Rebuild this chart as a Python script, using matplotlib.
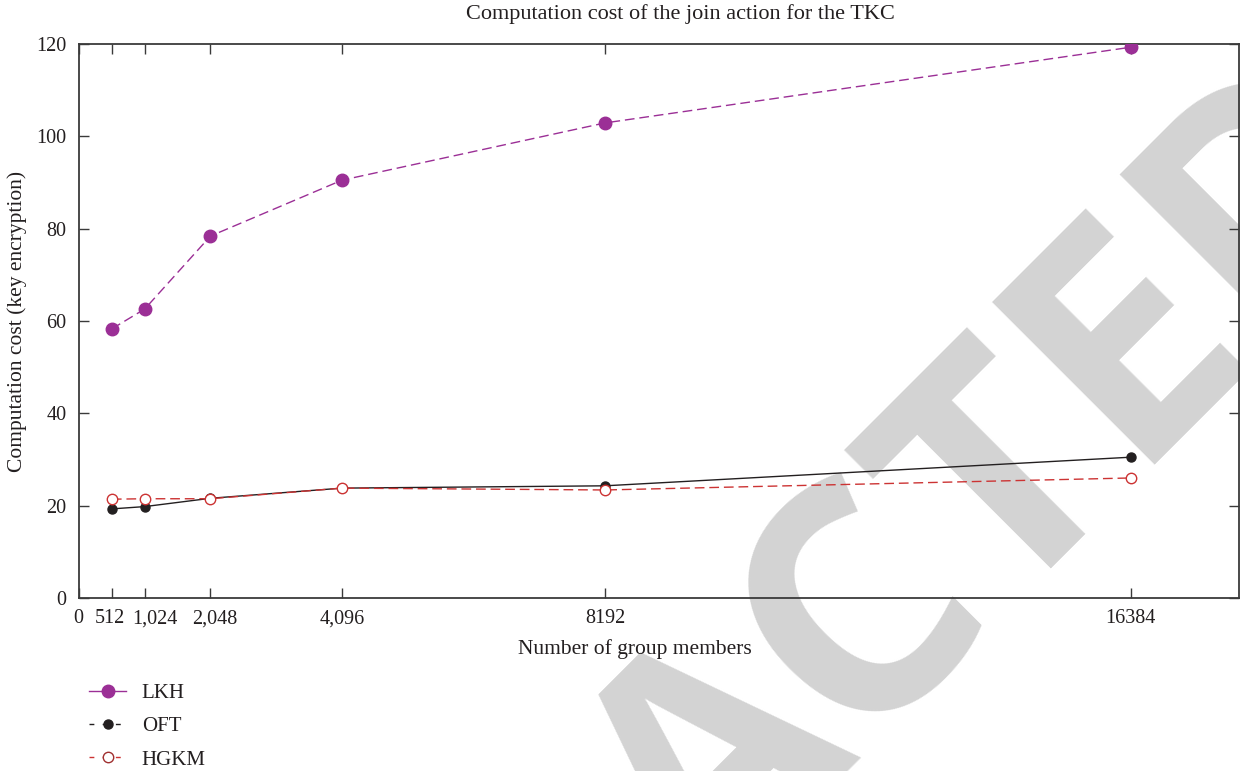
import matplotlib
matplotlib.use('Agg')
import matplotlib.pyplot as plt
from matplotlib.lines import Line2D
from matplotlib.transforms import ScaledTranslation
from matplotlib.font_manager import FontProperties
from matplotlib.textpath import TextToPath

plt.rcParams['font.family'] = ['Liberation Serif', 'DejaVu Serif']

# Group sizes and join costs (key encryptions)
group_sizes = [512, 1024, 2048, 4096, 8192, 16384]
lkh_cost = [58.3, 62.6, 78.4, 90.5, 102.9, 119.3]
oft_cost = [19.3, 19.8, 21.6, 23.8, 24.3, 30.5]
hgkm_cost = [21.4, 21.5, 21.5, 23.8, 23.4, 26.0]

x_ticks = [0, 512, 1024, 2048, 4096, 8192, 16384]
x_tick_labels = ['0', '512', '1,024', '2,048', '4,096', '8192', '16384']
y_ticks = [0, 20, 40, 60, 80, 100, 120]

purple = '#9b2f96'
black = '#231f20'
red = '#cc3333'
axis_color = '#3a3a3a'
text_color = '#231f20'

W, H, DPI = 1240, 771, 100
fig = plt.figure(figsize=(W / DPI, H / DPI), dpi=DPI)
ax = fig.add_axes([79 / W, 1 - 598 / H, 1160 / W, 554 / H])
ax.set_facecolor('none')

# Watermark behind the data: anchor the word so the second "E" starts near (1126, 465) px
wm_prop = FontProperties(family='Open Sans', weight='bold', size=232)
lead_w, _, _ = TextToPath().get_text_width_height_descent('RETRACT', wm_prop, ismath=False)
lead_px = lead_w * DPI / 72
x0 = 1126 - lead_px * 0.7071
y0 = (H - 465) - lead_px * 0.7071
ax.text(x0 / W, y0 / H, 'RETRACTED', transform=fig.transFigure,
        fontproperties=wm_prop, color='#d3d3d3',
        rotation=45, rotation_mode='anchor', ha='left', va='baseline',
        clip_on=False, zorder=0)

ax.plot(group_sizes, lkh_cost, color=purple, linewidth=1.0, dashes=(7, 3.5),
        marker='o', markersize=9, markerfacecolor=purple, markeredgecolor=purple, zorder=3)
ax.plot(group_sizes, oft_cost, color=black, linewidth=1.0, linestyle='-',
        marker='o', markersize=6.5, markerfacecolor=black, markeredgecolor=black, zorder=3)
ax.plot(group_sizes, hgkm_cost, color=red, linewidth=1.0, dashes=(7, 3.5),
        marker='o', markersize=7.5, markerfacecolor='white', markeredgecolor=red,
        markeredgewidth=1.0, zorder=3)

ax.set_xlim(0, 18070)
ax.set_ylim(0, 120)
ax.set_xticks(x_ticks)
ax.set_xticklabels(x_tick_labels)
ax.set_yticks(y_ticks)

ax.tick_params(direction='in', length=7, width=1.0, color=axis_color,
               top=True, right=True, labelsize=14.5, labelcolor=text_color)
ax.tick_params(axis='x', pad=8)
ax.tick_params(axis='y', pad=9)
for s in ax.spines.values():
    s.set_color(axis_color)
    s.set_linewidth(1.3)

# nudge the crowded small-group labels apart
for lbl, dx in zip(ax.get_xticklabels(), [-1, -2, 10, 4, 0, 0, 0]):
    lbl.set_transform(lbl.get_transform() + ScaledTranslation(dx / 100, 0, fig.dpi_scale_trans))

ax.set_xlabel('Number of group members', fontsize=15.5, color=text_color, labelpad=8)
ax.xaxis.label.set_x((635 - 79) / 1160)
ax.set_ylabel('Computation cost (key encryption)', fontsize=15.5, color=text_color, labelpad=7)
fig.text(680 / W, 1 - 14 / H, 'Computation cost of the join action for the TKC',
         fontsize=16, color=text_color, ha='center', va='center')

handles = [
    Line2D([], [], color=purple, linewidth=1.0, marker='o', markersize=9,
           markerfacecolor=purple, markeredgecolor=purple),
    Line2D([], [], color=black, linewidth=1.0, dashes=(3.5, 6), marker='o', markersize=6.5,
           markerfacecolor=black, markeredgecolor=black),
    Line2D([], [], color=red, linewidth=1.0, dashes=(3.5, 6), marker='o', markersize=7.5,
           markerfacecolor='white', markeredgecolor='#a03030'),
]
fig.legend(handles, ['LKH', 'OFT', 'HGKM'], loc='upper left',
           bbox_to_anchor=(70 / W, 1 - 665 / H), frameon=False, fontsize=15,
           handlelength=1.8, handletextpad=0.75, labelspacing=0.65, labelcolor=text_color)

fig.savefig('out.png', dpi=DPI)
